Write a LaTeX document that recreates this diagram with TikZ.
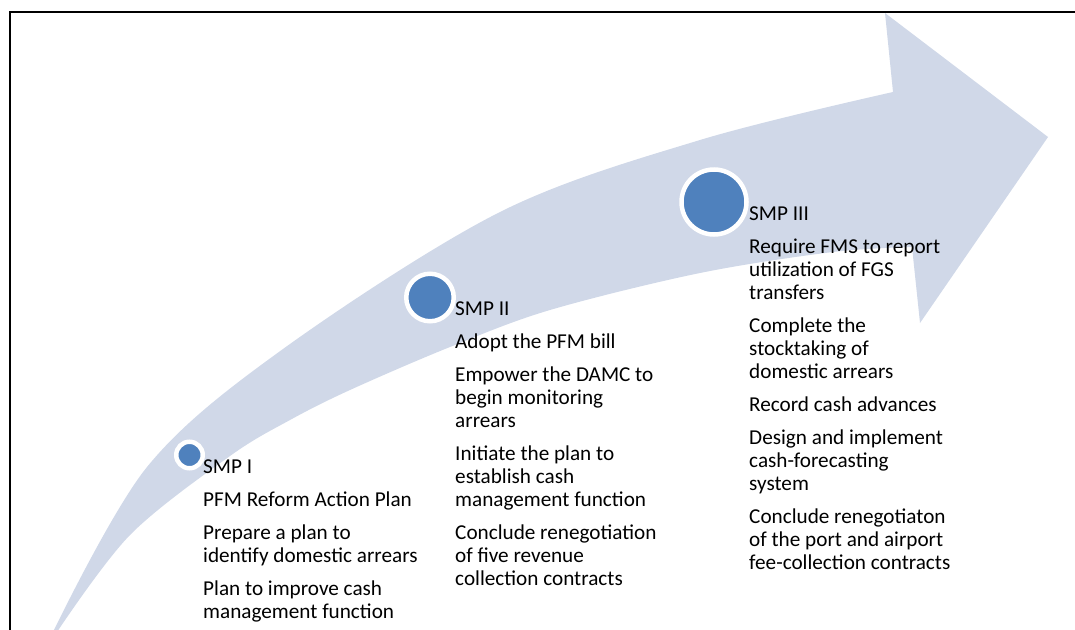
\documentclass[tikz,border=0pt]{standalone}
\usepackage{fontspec}
\setmainfont{Carlito}
\definecolor{bandcol}{HTML}{D0D8E8}
\definecolor{dotcol}{HTML}{4F81BD}
\begin{document}
\begin{tikzpicture}[x=1pt,y=-1pt,
  stage/.style={circle, fill=dotcol, draw=white, line width=4.5pt, inner sep=0pt},
  block/.style={anchor=base west, inner sep=0pt, font=\fontsize{21.2}{22.9}\selectfont},
  frameline/.style={draw=black, line width=2pt}]
\useasboundingbox (0,0) rectangle (1075,629);
% frame
\draw[frameline] (10.3,640) -- (10.3,12) -- (1080,12);
% curved arrow
\fill[bandcol] plot[smooth, tension=0.55] coordinates {(53,632) (147,467) (283,349) (500,212) (700,140) (893,92)}
  -- (885,13) -- (1048,137) -- (920,323)
  -- plot[smooth, tension=0.55] coordinates {(912,247) (833,252) (700,273) (550,310) (450,347) (350,390) (290,420) (230,456) (130,535) (57,632)}
  -- cycle;
% stages
\node[stage, minimum size=26.5pt] (s1) at (189.5,455) {};
\node[stage, minimum size=47.5pt] (s2) at (430,297.5) {};
\node[stage, minimum size=65pt] (s3) at (714,202) {};
% texts
\node[block] (t1) at (203,473) {\begin{tabular}[t]{@{}l@{}}
SMP I\\[10.4pt]
PFM Reform Action Plan\\[10.4pt]
Prepare a plan to\\
identify domestic arrears\\[10.4pt]
Plan to improve cash\\
management function
\end{tabular}};
\node[block] (t2) at (455,315) {\begin{tabular}[t]{@{}l@{}}
SMP II\\[10.4pt]
Adopt the PFM bill\\[10.4pt]
Empower the DAMC to\\
begin monitoring\\
arrears\\[10.4pt]
Initiate the plan to\\
establish cash\\
management function\\[10.4pt]
Conclude renegotiation\\
of five revenue\\
collection contracts
\end{tabular}};
\node[block] (t3) at (749,220) {\begin{tabular}[t]{@{}l@{}}
SMP III\\[10.4pt]
Require FMS to report\\
utilization of FGS\\
transfers\\[10.4pt]
Complete the\\
stocktaking of\\
domestic arrears\\[10.4pt]
Record cash advances\\[10.4pt]
Design and implement\\
cash-forecasting\\
system\\[10.4pt]
Conclude renegotiaton\\
of the port and airport\\
fee-collection contracts
\end{tabular}};
\end{tikzpicture}
\end{document}
